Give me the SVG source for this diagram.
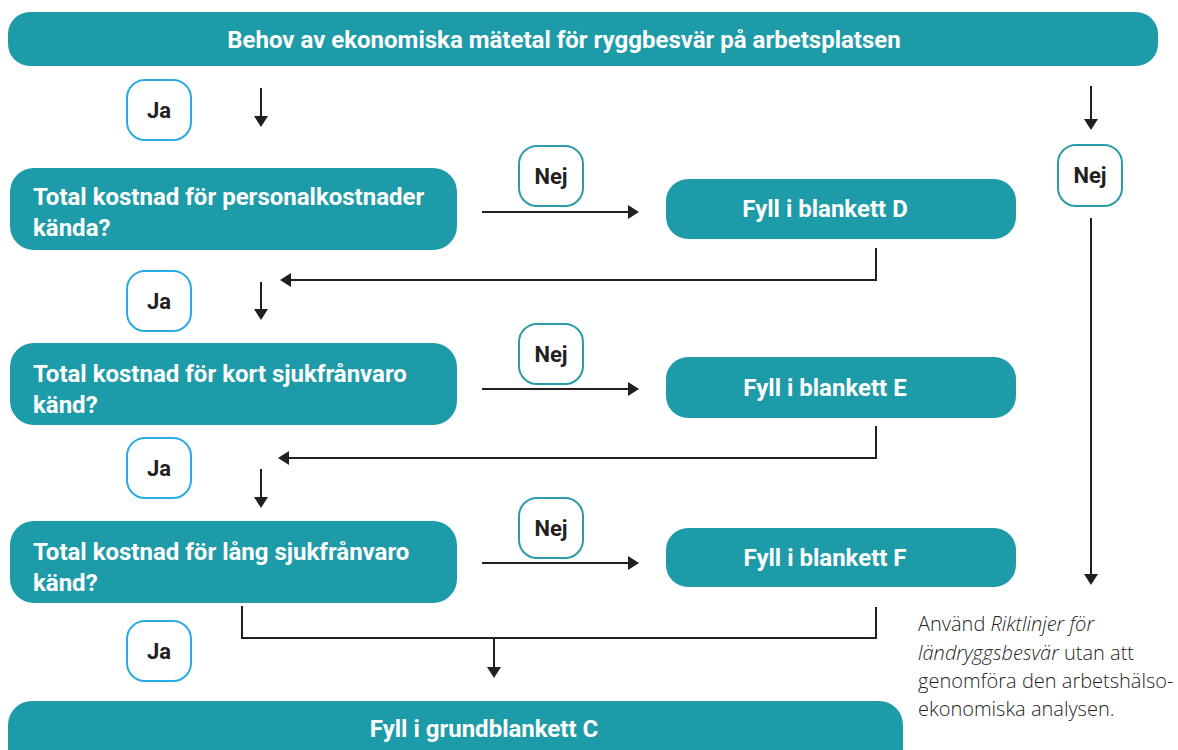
<svg xmlns="http://www.w3.org/2000/svg" width="1178" height="750" viewBox="0 0 1178 750">
<style>
.box{fill:#1e9ba8}
.t{font-family:Roboto,"Liberation Sans",sans-serif;font-weight:700;font-size:24px;fill:#ffffff}
.ja{fill:#fff;stroke:#29abe2;stroke-width:2}
.nej{fill:#fff;stroke:#2a9ca8;stroke-width:2}
.lbl{font-family:Roboto,"Liberation Sans",sans-serif;font-weight:700;font-size:22px;fill:#231f20;text-anchor:middle}
.c{fill:none;stroke:#231f20;stroke-width:2}
.note{font-family:"Open Sans","Liberation Sans",sans-serif;font-weight:300;font-size:20px;fill:#231f20}
</style>
<defs>
<marker id="ah" viewBox="0 0 11 14" refX="3" refY="7" markerWidth="11" markerHeight="14" markerUnits="userSpaceOnUse" orient="auto">
<path d="M0,0 L11,7 L0,14 z" fill="#231f20"/>
</marker>
</defs>
<rect width="1178" height="750" fill="#fff"/>

<g id="n-behov">
<rect class="box" x="8" y="12" width="1150" height="54" rx="22"/>
<text class="t" x="564" y="48" text-anchor="middle">Behov av ekonomiska mätetal för ryggbesvär på arbetsplatsen</text>
</g>

<g id="ja1"><rect class="ja" x="127" y="80" width="64" height="60" rx="18"/><text class="lbl" x="159" y="118">Ja</text></g>
<g id="ja2"><rect class="ja" x="127" y="271" width="64" height="60" rx="18"/><text class="lbl" x="159" y="309">Ja</text></g>
<g id="ja3"><rect class="ja" x="127" y="438" width="64" height="60" rx="18"/><text class="lbl" x="159" y="476">Ja</text></g>
<g id="ja4"><rect class="ja" x="127" y="621" width="64" height="60" rx="18"/><text class="lbl" x="159" y="659">Ja</text></g>

<g id="nej1"><rect class="nej" x="519" y="146" width="64" height="60" rx="18"/><text class="lbl" x="551" y="184">Nej</text></g>
<g id="nej2"><rect class="nej" x="519" y="324" width="64" height="60" rx="18"/><text class="lbl" x="551" y="362">Nej</text></g>
<g id="nej3"><rect class="nej" x="519" y="498" width="64" height="60" rx="18"/><text class="lbl" x="551" y="536">Nej</text></g>
<g id="nej4"><rect class="nej" x="1058" y="145" width="64" height="61" rx="18"/><text class="lbl" x="1090" y="183">Nej</text></g>

<g id="q1">
<rect class="box" x="10" y="168" width="447" height="82" rx="24"/>
<text class="t" x="33" y="205">Total kostnad för personalkostnader</text>
<text class="t" x="33" y="236">kända?</text>
</g>
<g id="q2">
<rect class="box" x="10" y="343" width="447" height="82" rx="24"/>
<text class="t" x="33" y="382">Total kostnad för kort sjukfrånvaro</text>
<text class="t" x="33" y="413">känd?</text>
</g>
<g id="q3">
<rect class="box" x="10" y="521" width="447" height="82" rx="24"/>
<text class="t" x="33" y="560">Total kostnad för lång sjukfrånvaro</text>
<text class="t" x="33" y="591">känd?</text>
</g>

<g id="fd"><rect class="box" x="666" y="179" width="350" height="60" rx="22"/><text class="t" x="825" y="217" text-anchor="middle">Fyll i blankett D</text></g>
<g id="fe"><rect class="box" x="666" y="357" width="350" height="61" rx="22"/><text class="t" x="825" y="396" text-anchor="middle">Fyll i blankett E</text></g>
<g id="ff"><rect class="box" x="666" y="528" width="350" height="59" rx="22"/><text class="t" x="825" y="566" text-anchor="middle">Fyll i blankett F</text></g>

<g id="fc">
<rect class="box" x="8" y="701" width="895" height="80" rx="24"/>
<text class="t" x="484" y="737" text-anchor="middle">Fyll i grundblankett C</text>
</g>

<g id="note" class="note">
<text x="918" y="631">Använd <tspan font-style="italic">Riktlinjer för</tspan></text>
<text x="918" y="660"><tspan font-style="italic">ländryggsbesvär</tspan> utan att</text>
<text x="918" y="688">genomföra den arbetshälso-</text>
<text x="918" y="716">ekonomiska analysen.</text>
</g>

<g id="connectors">
<path class="c" d="M261,88 V119" marker-end="url(#ah)"/>
<path class="c" d="M1091,86 V122" marker-end="url(#ah)"/>
<path class="c" d="M1091,218 V577" marker-end="url(#ah)"/>
<path class="c" d="M482,212 H631" marker-end="url(#ah)"/>
<path class="c" d="M482,389 H631" marker-end="url(#ah)"/>
<path class="c" d="M482,563 H631" marker-end="url(#ah)"/>
<path class="c" d="M876,248 V280 H288" marker-end="url(#ah)"/>
<path class="c" d="M876,426 V458 H286" marker-end="url(#ah)"/>
<path class="c" d="M261,282 V312" marker-end="url(#ah)"/>
<path class="c" d="M261,469 V500" marker-end="url(#ah)"/>
<path class="c" d="M242,606 V638 H876 V607"/>
<path class="c" d="M494,638 V670" marker-end="url(#ah)"/>
</g>
</svg>
